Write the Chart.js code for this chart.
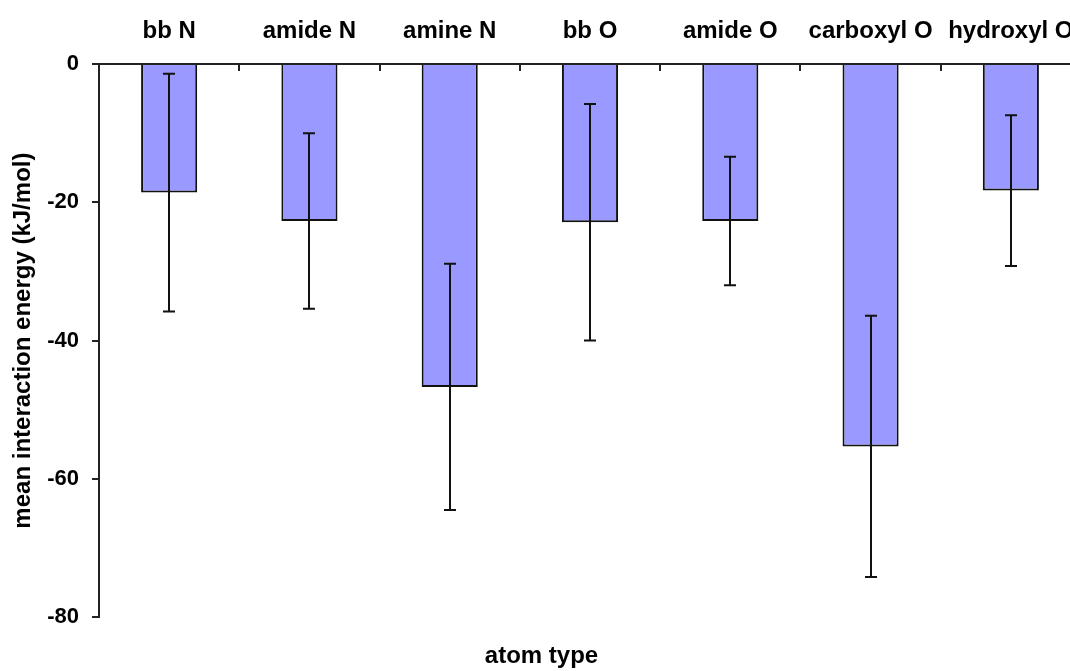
<!DOCTYPE html>
<html>
<head>
<meta charset="utf-8">
<title>Mean interaction energy by atom type</title>
<script src="https://cdn.jsdelivr.net/npm/chart.js@4/dist/chart.umd.min.js"></script>
<style>
  html, body { margin: 0; padding: 0; background: #fff; overflow: hidden; }
  #wrap { width: 1070px; height: 671px; overflow: hidden; position: relative; }
  canvas { display: block; }
</style>
</head>
<body>
<div id="wrap"><canvas id="chart" width="1085" height="671"></canvas></div>
<script>
// Atom types along the category axis
const categories = ['bb N', 'amide N', 'amine N', 'bb O', 'amide O', 'carboxyl O', 'hydroxyl O'];
// Mean interaction energy (kJ/mol) per atom type
const meanEnergy = [-18.6, -22.7, -46.7, -22.9, -22.7, -55.3, -18.3];
// Standard deviation drawn as symmetric error bars
const stdDev = [17.2, 12.7, 17.8, 17.1, 9.3, 18.9, 10.9];
// Value axis ticks
const yTicks = [0, -20, -40, -60, -80];

const FONT = "'Liberation Sans', Arial, Helvetica, sans-serif";
const INK = '#111';

// Draws mean ± SD whiskers with caps on top of each bar
const errorBars = {
  id: 'errorBars',
  afterDatasetsDraw(chart) {
    const meta = chart.getDatasetMeta(0);
    const yScale = chart.scales.y;
    const ctx = chart.ctx;
    ctx.save();
    ctx.strokeStyle = INK;
    ctx.lineWidth = 2;
    meta.data.forEach((bar, i) => {
      const x = Math.round(bar.x);
      const yHi = yScale.getPixelForValue(meanEnergy[i] + stdDev[i]);
      const yLo = yScale.getPixelForValue(meanEnergy[i] - stdDev[i]);
      const cap = 6;
      ctx.beginPath();
      ctx.moveTo(x, yHi);
      ctx.lineTo(x, yLo);
      ctx.moveTo(x - cap, yHi);
      ctx.lineTo(x + cap, yHi);
      ctx.moveTo(x - cap, yLo);
      ctx.lineTo(x + cap, yLo);
      ctx.stroke();
    });
    ctx.restore();
  }
};

new Chart(document.getElementById('chart'), {
  type: 'bar',
  data: {
    labels: categories,
    datasets: [{
      data: meanEnergy,
      backgroundColor: '#9999FF',
      borderColor: INK,
      borderWidth: 2,
      categoryPercentage: 1.0,
      barPercentage: 0.4
    }]
  },
  options: {
    responsive: false,
    animation: false,
    devicePixelRatio: 1,
    layout: { padding: { top: 0, left: 2, right: 4, bottom: 0 } },
    plugins: {
      legend: { display: false },
      tooltip: { enabled: false },
      title: {
        display: true,
        position: 'bottom',
        text: 'atom type',
        color: '#000',
        font: { family: FONT, size: 24, weight: 'bold' },
        padding: { top: 25, bottom: 0 }
      }
    },
    scales: {
      x: {
        position: 'top',
        offset: true,
        afterFit(scale) {
          scale.height = 64;
          scale.paddingLeft = 0;
          scale.paddingRight = 0;
        },
        grid: {
          offset: true,
          drawOnChartArea: false,
          drawTicks: true,
          tickLength: -7,
          color: '#222',
          lineWidth: 2
        },
        border: { display: true, color: '#222', width: 2 },
        ticks: {
          color: '#000',
          padding: 25,
          maxRotation: 0,
          autoSkip: false,
          font: { family: FONT, size: 24, weight: 'bold' }
        }
      },
      y: {
        min: -80,
        max: 0,
        afterBuildTicks(scale) {
          scale.ticks = yTicks.map(v => ({ value: v }));
        },
        afterFit(scale) { scale.width = 97; },
        grid: {
          drawOnChartArea: false,
          drawTicks: true,
          tickLength: 7,
          color: '#222',
          lineWidth: 2
        },
        border: { display: true, color: '#222', width: 2 },
        ticks: {
          color: '#000',
          padding: 13,
          font: { family: FONT, size: 22, weight: 'bold' }
        },
        title: {
          display: true,
          text: 'mean interaction energy (kJ/mol)',
          color: '#000',
          font: { family: FONT, size: 24, weight: 'bold' },
          padding: { top: 6.6, bottom: 9.8 }
        }
      }
    }
  },
  plugins: [errorBars]
});
</script>
</body>
</html>
